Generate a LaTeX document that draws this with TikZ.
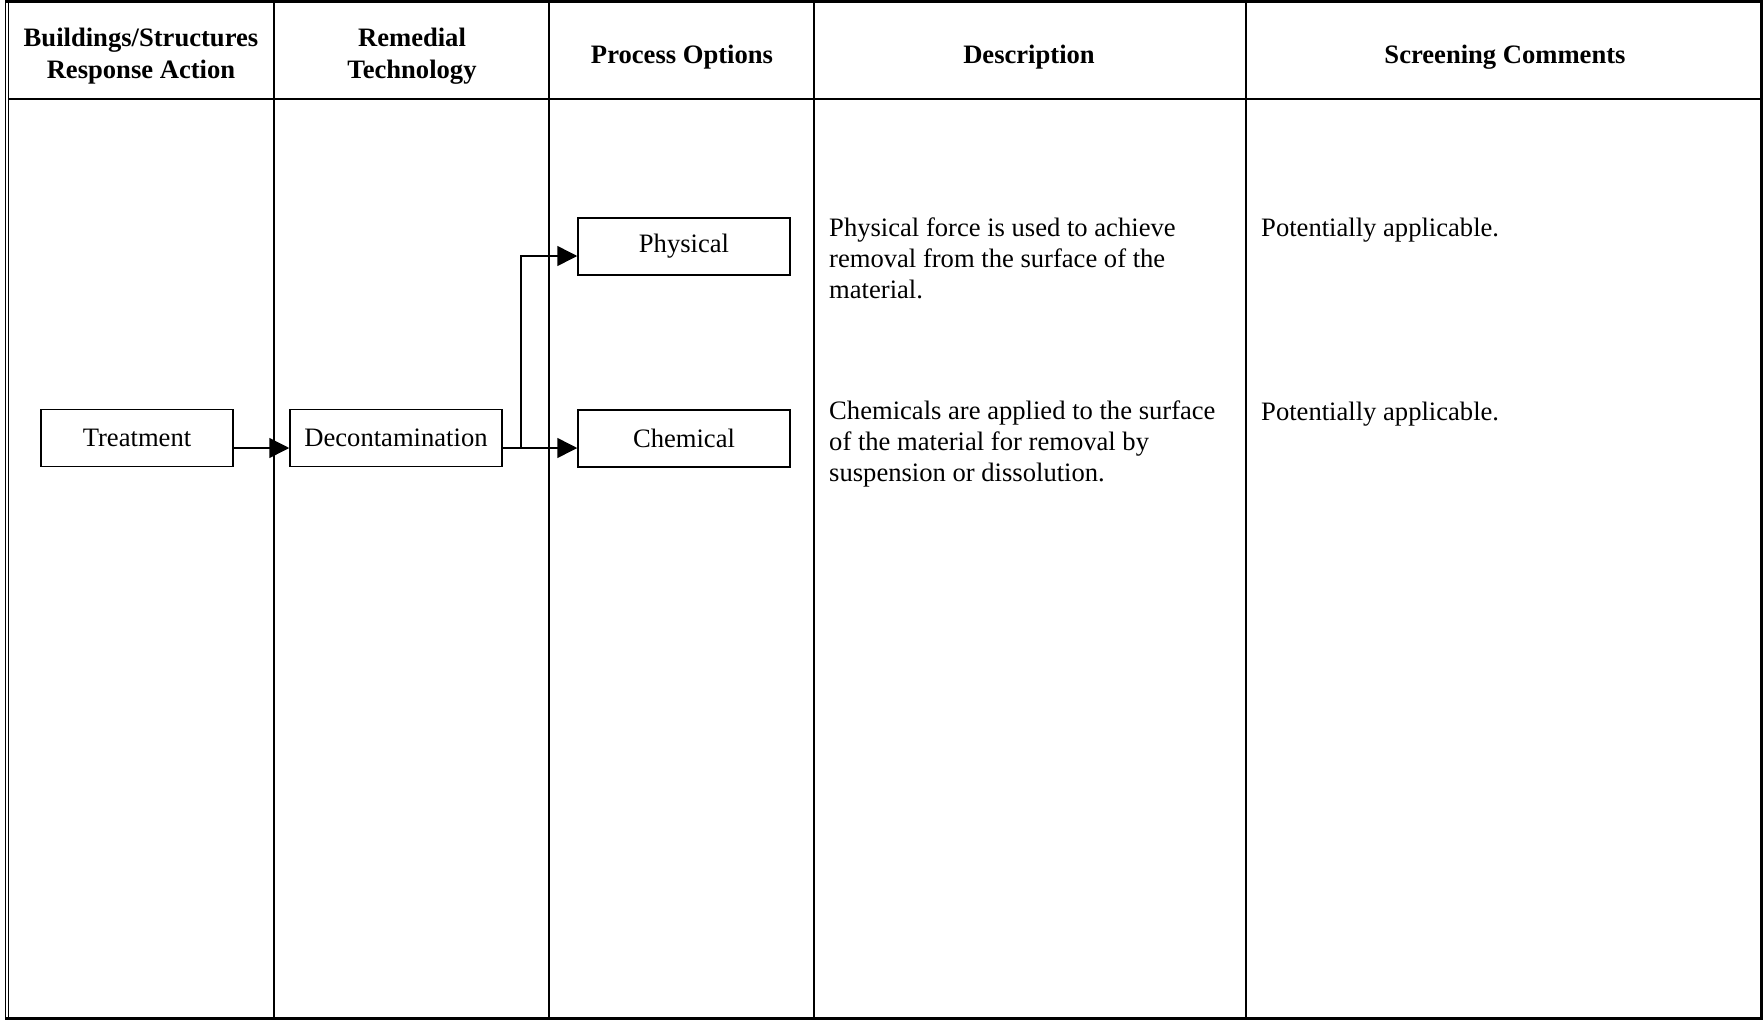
\documentclass[tikz,border=0pt]{standalone}
\usepackage{fontspec}
\setmainfont{Liberation Serif}
\usetikzlibrary{arrows.meta}
\begin{document}
\begin{tikzpicture}[x=1pt,y=-1pt,
  body/.style={font=\fontsize{26.6}{30.8}\selectfont},
  head/.style={font=\fontsize{26.6}{31.5}\selectfont\bfseries, align=center, inner sep=0pt},
  txt/.style={body, align=left, anchor=base west, inner sep=0pt},
  box/.style={draw, line width=1.5pt, body, inner sep=0pt, minimum height=57pt},
  rule/.style={line width=2.2pt},
  conn/.style={line width=1.5pt, -{Triangle[length=20pt,width=20pt]}}
]
\useasboundingbox (0,0) rectangle (1764,1020);
\fill[white] (0,0) rectangle (1764,1020);
% frame
\draw[line width=3pt] (5,1.5) -- (1761,1.5);
\draw[line width=3pt] (1761,0) -- (1761,1020);
\draw[line width=3pt] (5,1018.5) -- (1762,1018.5);
\draw[line width=1.3pt] (5.6,0) -- (5.6,1020);
\draw[line width=1.3pt] (8.7,0) -- (8.7,1020);
\draw[rule] (9,99) -- (1761,99);
\draw[rule] (274,1.5) -- (274,1018.5);
\draw[rule] (549,1.5) -- (549,1018.5);
\draw[rule] (814,1.5) -- (814,1018.5);
\draw[rule] (1246,1.5) -- (1246,1018.5);
% headers
\node[head] (h1) at (141,56) {Buildings/Structures\\Response Action};
\node[head] (h2) at (412,56) {Remedial\\Technology};
\node[head] (h3) at (682,57) {Process Options};
\node[head] (h4) at (1029,57) {Description};
\node[head] (h5) at (1505,57) {Screening Comments};
% boxes
\node[box, minimum width=192pt] (treat) at (137,438) {Treatment};
\node[box, minimum width=212pt] (decon) at (396,438) {Decontamination};
\node[box, minimum width=212pt] (phys) at (684,246.5) {Physical};
\node[box, minimum width=212pt] (chem) at (684,438.5) {Chemical};
% connectors
\coordinate (br) at (521,448);
\draw[conn] ([yshift=-10pt]treat.east) -- ([yshift=-10pt]decon.west);
\draw[conn] ([yshift=-10pt]decon.east) -- ([yshift=-9.5pt]chem.west);
\draw[conn] (br) |- ([yshift=-9.5pt]phys.west);
% description texts (anchored at the baseline of the last line)
\node[txt] (d1) at (829,298.5) {Physical force is used to achieve\\removal from the surface of the\\material.};
\node[txt] (d2) at (829,481.5) {Chemicals are applied to the surface\\of the material for removal by\\suspension or dissolution.};
\node[txt] (c1) at (1261,236.5) {Potentially applicable.};
\node[txt] (c2) at (1261,420) {Potentially applicable.};
\end{tikzpicture}
\end{document}
